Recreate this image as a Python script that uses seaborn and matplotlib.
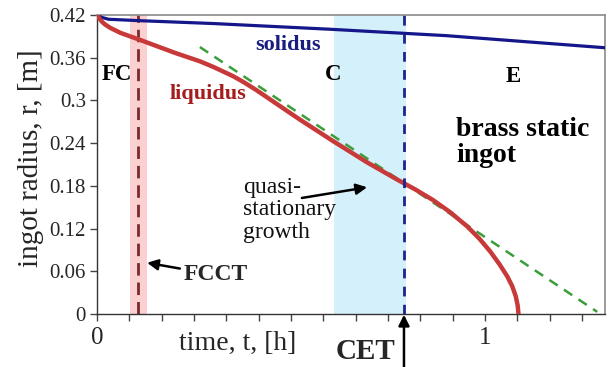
import numpy as np
import pandas as pd
import matplotlib
matplotlib.use("Agg")
import matplotlib.pyplot as plt
import seaborn as sns

# ---- data (time in hours, radius in metres) ----
liq_t = [0.000, 0.005, 0.012, 0.020, 0.034, 0.060, 0.111, 0.200, 0.265, 0.300, 0.351,
         0.380, 0.412, 0.523, 0.608, 0.696, 0.773, 0.820, 0.866, 0.910, 0.954, 0.985,
         1.013, 1.037, 1.057, 1.070, 1.079, 1.084, 1.086]
liq_r = [0.420, 0.416, 0.411, 0.407, 0.402, 0.395, 0.385, 0.367, 0.355, 0.347, 0.334,
         0.325, 0.314, 0.273, 0.243, 0.213, 0.189, 0.175, 0.160, 0.143, 0.123, 0.106,
         0.088, 0.070, 0.053, 0.039, 0.025, 0.012, 0.000]
sol_t = [0.000, 0.010, 0.030, 0.111, 0.300, 0.600, 0.900, 1.309]
sol_r = [0.420, 0.417, 0.414, 0.412, 0.408, 0.400, 0.391, 0.374]
qs_t = [0.265, 1.289]
qs_r = [0.375, 0.003]

fcct_band = [0.085, 0.129]
fcct_t = 0.106
cet_band = [0.611, 0.796]
cet_t = 0.791

y_ticks = [0, 0.06, 0.12, 0.18, 0.24, 0.30, 0.36, 0.42]
y_ticklabels = ["0", "0.06", "0.12", "0.18", "0.24", "0.3", "0.36", "0.42"]
x_ticks = [0, 1]
x_ticklabels = ["0", "1"]

sns.set_style("ticks")
plt.rcParams['font.family'] = ['Liberation Serif', 'DejaVu Serif']

fig = plt.figure(figsize=(6.08, 3.67), dpi=100)
ax = fig.add_axes([97/608, 1-314/367, 508/608, 299/367])

ax.axvspan(fcct_band[0], fcct_band[1], color="#fbd0d0", lw=0, zorder=0)
ax.axvspan(cet_band[0], cet_band[1], color="#d4f1fb", lw=0, zorder=0)

liq = pd.DataFrame({"t": liq_t, "r": liq_r})
sol = pd.DataFrame({"t": sol_t, "r": sol_r})
qs = pd.DataFrame({"t": qs_t, "r": qs_r})

sns.lineplot(data=sol, x="t", y="r", ax=ax, color="#14168a", lw=2.3, estimator=None, zorder=3)
sns.lineplot(data=qs, x="t", y="r", ax=ax, color="#3a9e3a", lw=1.8, estimator=None,
             linestyle=(0, (4, 3)), zorder=3)
sns.lineplot(data=liq, x="t", y="r", ax=ax, color="#c83a3a", lw=3.2, estimator=None,
             zorder=4, solid_joinstyle="round")

ax.axvline(fcct_t, color="#7b2a2a", lw=2.0, ls=(0, (4.5, 2.5)), zorder=2)
ax.axvline(cet_t, color="#1a2590", lw=2.0, ls=(0, (3.5, 3)), zorder=5)

ax.set_xlim(0, 1.309)
ax.set_ylim(0, 0.42)
ax.set_yticks(y_ticks)
ax.set_yticklabels(y_ticklabels, fontsize=15)
ax.set_xticks(x_ticks)
ax.set_xticklabels(x_ticklabels, fontsize=18)
ax.set_xticks(np.arange(0, 1.31, 1/12), minor=True)
ax.tick_params(axis="x", which="both", length=5, width=1, color="#444444", pad=4)
ax.tick_params(axis="y", length=5, width=1, color="#444444", pad=3)

for s in ["left", "bottom"]:
    ax.spines[s].set_color("#333333")
    ax.spines[s].set_linewidth(1.0)
for s in ["top", "right"]:
    ax.spines[s].set_visible(True)
    ax.spines[s].set_color("#8a8a8a")
    ax.spines[s].set_linewidth(1.2)

ax.set_xlabel("time, t, [h]", fontsize=20)
ax.xaxis.set_label_coords((238-97)/508, -(331-314)/299)
ax.set_ylabel("ingot radius, r, [m]", fontsize=21)
ax.yaxis.set_label_coords(-(97-44)/508, (314-158)/299)

bold = dict(fontweight="bold")
ax.text(0.492, 0.378, "solidus", color="#1a1d80", fontsize=16, ha="center", va="center", **bold)
ax.text(0.286, 0.309, "liquidus", color="#a51d1d", fontsize=16, ha="center", va="center", **bold)
ax.text(0.052, 0.337, "FC", color="black", fontsize=16.5, ha="center", va="center", **bold)
ax.text(0.608, 0.337, "C", color="black", fontsize=16.5, ha="center", va="center", **bold)
ax.text(1.072, 0.333, "E", color="black", fontsize=16.5, ha="center", va="center", **bold)
ax.text(0.925, 0.277, "brass static\ningot", color="black", fontsize=20, ha="left", va="top",
        linespacing=1.05, **bold)
ax.text(0.376, 0.193, "quasi-\nstationary\ngrowth", color="#111111", fontsize=17,
        ha="left", va="top", linespacing=1.1)

arrow = dict(arrowstyle="-|>", color="black", lw=1.8, mutation_scale=16, shrinkA=0, shrinkB=0)
ax.annotate("", xy=(0.696, 0.178), xytext=(0.528, 0.163), arrowprops=arrow)
ax.annotate("FCCT", xy=(0.129, 0.072), xytext=(0.222, 0.055), fontsize=17, ha="left",
            va="center", arrowprops=arrow, **bold)
ax.annotate("", xy=(cet_t, -0.001), xytext=(cet_t, -0.075), arrowprops=arrow,
            annotation_clip=False)
ax.text(0.693, -0.053, "CET", fontsize=21, ha="center", va="center", clip_on=False, **bold)

fig.savefig("out.png", dpi=100)
